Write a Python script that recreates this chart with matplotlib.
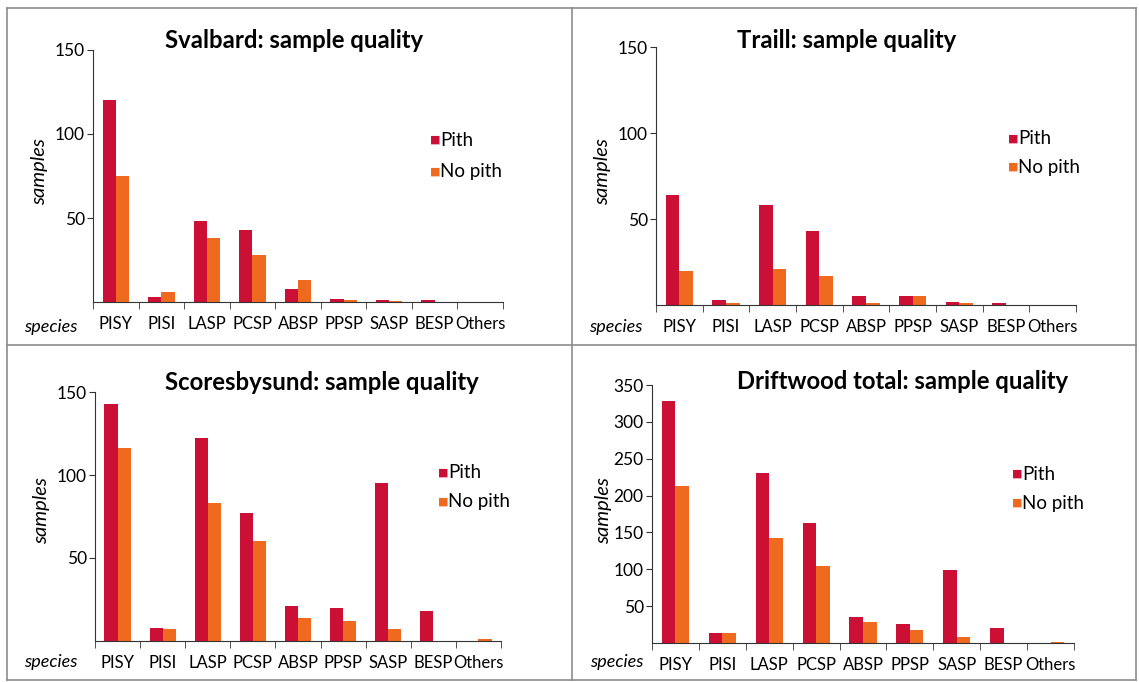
import matplotlib
matplotlib.use("Agg")
import matplotlib.pyplot as plt
import numpy as np
from matplotlib.lines import Line2D

plt.rcParams['font.family'] = ['Lato', 'DejaVu Sans']

species = ["PISY", "PISI", "LASP", "PCSP", "ABSP", "PPSP", "SASP", "BESP", "Others"]

svalbard_pith = [120, 3, 48, 43, 8, 2, 1, 1, 0]
svalbard_nopith = [75, 6, 38, 28, 13, 1, 0.5, 0, 0]
traill_pith = [64, 3, 58, 43, 5, 5, 2, 1, 0]
traill_nopith = [20, 1, 21, 17, 1, 5, 1, 0, 0]
scoresby_pith = [143, 8, 122, 77, 21, 20, 95, 18, 0]
scoresby_nopith = [116, 7, 83, 60, 14, 12, 7, 0, 1]
total_pith = [328, 13, 230, 163, 35, 26, 99, 21, 0]
total_nopith = [213, 13, 143, 105, 28, 17, 8, 0, 1]

panels = [
    ("Svalbard: sample quality", svalbard_pith, svalbard_nopith, 150, [50, 100, 150]),
    ("Traill: sample quality", traill_pith, traill_nopith, 150, [50, 100, 150]),
    ("Scoresbysund: sample quality", scoresby_pith, scoresby_nopith, 150, [50, 100, 150]),
    ("Driftwood total: sample quality", total_pith, total_nopith, 350, [50, 100, 150, 200, 250, 300, 350]),
]

PITH = "#cc1035"
NOPITH = "#ef6a1f"

W, H = 1139, 682
fig = plt.figure(figsize=(W / 100, H / 100), dpi=100)

# axes boxes in pixels: left, top, right, bottom
boxes = [
    (93, 50, 503, 302),
    (656, 47, 1076, 305),
    (95, 392, 501, 641),
    (652, 385, 1074, 643),
]
title_pos = [(294, 40), (847, 40), (322, 383), (903, 382)]
legend_pos = [(435, 140, 172), (1013, 139, 167), (443, 473, 502), (1017, 474, 503)]
ylabel_pos = [(40, 172), (603, 172), (42, 511), (604, 511)]
species_pos = [(51, 327), (616, 327), (51, 662), (617, 662)]

x = np.arange(len(species))
bw = 0.29

for (title, pith, nopith, ymax, yt), (l, t, r, b), tp, lp, yp, sp in zip(
        panels, boxes, title_pos, legend_pos, ylabel_pos, species_pos):
    ax = fig.add_axes([l / W, 1 - b / H, (r - l) / W, (b - t) / H])
    ax.bar(x - bw / 2, pith, bw, color=PITH)
    ax.bar(x + bw / 2, nopith, bw, color=NOPITH)
    ax.set_xlim(-0.5, len(species) - 0.5)
    ax.set_ylim(0, ymax)
    ax.set_yticks(yt)
    ax.tick_params(axis="y", labelsize=12.5, length=4, color="#333333", pad=2)
    ax.set_xticks(x)
    ax.set_xticklabels(species, fontsize=12)
    ax.tick_params(axis="x", length=0, pad=10)
    ax.set_xticks(np.arange(len(species) + 1) - 0.5, minor=True)
    ax.tick_params(axis="x", which="minor", length=5, color="#333333")
    for s in ["top", "right"]:
        ax.spines[s].set_visible(False)
    for s in ["left", "bottom"]:
        ax.spines[s].set_color("#333333")
    ax.patch.set_alpha(0)

    fig.text(tp[0] / W, 1 - tp[1] / H, title, fontsize=17.2, fontweight="bold",
             ha="center", va="center")
    fig.text(yp[0] / W, 1 - yp[1] / H, "samples", fontsize=14.5, style="italic",
             rotation=90, ha="center", va="center")
    fig.text(sp[0] / W, 1 - sp[1] / H, "species", fontsize=13, style="italic",
             ha="center", va="center")
    for yy, lab, col in [(lp[1], "Pith", PITH), (lp[2], "No pith", NOPITH)]:
        fig.text(lp[0] / W, 1 - yy / H, "\u25a0", color=col, fontsize=8,
                 ha="center", va="center", family="DejaVu Sans")
        fig.text((lp[0] + 5) / W, 1 - yy / H, lab, fontsize=13.5,
                 ha="left", va="center")

# panel borders
bc = "#8c8c8c"
for xs, ys in [([7, 1136], [8, 8]), ([7, 1136], [680, 680]), ([7, 7], [8, 680]),
               ([1136, 1136], [8, 680]), ([572, 572], [8, 680]), ([7, 1136], [345, 345])]:
    fig.add_artist(Line2D([v / W for v in xs], [1 - v / H for v in ys],
                          color=bc, lw=1.2))

fig.savefig("out.png", dpi=100)
